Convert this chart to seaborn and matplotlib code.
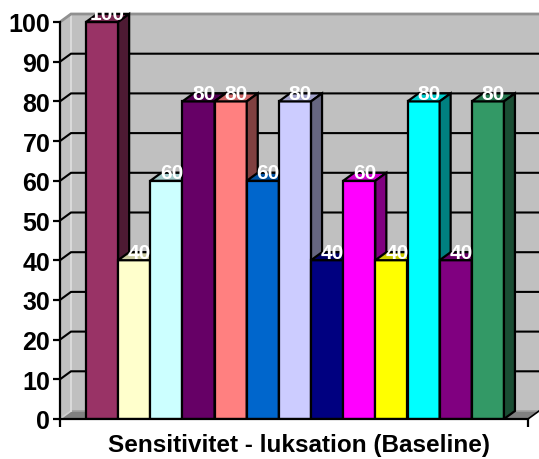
import matplotlib
matplotlib.use("Agg")
import matplotlib.pyplot as plt
import seaborn as sns
import numpy as np
from matplotlib.patches import Polygon
from matplotlib.colors import to_rgb

# ---- data ----
categories = [f"S{i}" for i in range(1, 14)]
values = [100, 40, 60, 80, 80, 60, 80, 40, 60, 40, 80, 40, 80]
colors = ["#993366", "#FFFFCC", "#CCFFFF", "#660066", "#FF8080", "#0066CC",
          "#CCCCFF", "#000080", "#FF00FF", "#FFFF00", "#00FFFF", "#800080",
          "#339966"]
yticks = list(range(0, 101, 10))
xlabel = "Sensitivitet - luksation (Baseline)"

plt.rcParams['font.family'] = ['Liberation Sans', 'DejaVu Sans']

W_PX, H_PX = 539, 460
fig = plt.figure(figsize=(W_PX / 100, H_PX / 100), dpi=100)
L_PX, B_PX = 60, 40
ax = fig.add_axes([L_PX / W_PX, B_PX / H_PX, (W_PX - L_PX) / W_PX, (H_PX - B_PX) / H_PX])

sns.barplot(x=categories, y=values, hue=categories, palette=colors, width=1.0,
            saturation=1, edgecolor="black", linewidth=1.6, legend=False, ax=ax)
bars = sorted(list(ax.patches), key=lambda p: p.get_x())

# layout in data units
bar_px = 32.15
unit_px = 3.97
XL = -0.5 - 26 / bar_px
XMAX = XL + (W_PX - L_PX) / bar_px
XR = -0.5 + (528 - 86) / bar_px
YMAX = (H_PX - B_PX) / unit_px
DX = 11 / bar_px
DY = 8 / unit_px

ax.set_xlim(XL, XMAX)
ax.set_ylim(0, YMAX)
ax.set_facecolor("white")

# walls and floor
ax.add_patch(Polygon([(XL + DX, DY), (XMAX, DY), (XMAX, 100 + DY), (XL + DX, 100 + DY)],
                     closed=True, fc="#C0C0C0", ec="none", zorder=0.5))
ax.add_patch(Polygon([(XL, 0), (XL + DX, DY), (XL + DX, 100 + DY), (XL, 100)],
                     closed=True, fc="#C0C0C0", ec="none", zorder=0.55))
ax.plot([XL + DX, XL + DX], [DY, 100 + DY], color="#E0E0E0", lw=1.2, zorder=0.7)
ax.add_patch(Polygon([(XL, 0), (XR, 0), (XR + DX, DY), (XL + DX, DY)],
                     closed=True, fc="#808080", ec="none", zorder=0.6))
ax.plot([XL + DX, XMAX], [DY, DY], color="#A0A0A0", lw=1.2, zorder=0.65)
ax.plot([XL, XL + DX], [0, DY], color="#D0D0D0", lw=1.2, zorder=0.65)
ax.plot([XR, XR + DX], [0, DY], color="black", lw=1.2, zorder=0.65)
for v in yticks[1:-1]:
    ax.plot([XL, XL + DX, XMAX], [v, v + DY, v + DY], color="black", lw=1.5,
            zorder=0.8, solid_joinstyle="miter")
ax.plot([XL, XL + DX, XMAX], [100, 100 + DY, 100 + DY], color="#909090", lw=2,
        zorder=0.8, solid_joinstyle="miter")

# 3D faces of the bars
for i, p in enumerate(bars):
    x0, w, h = p.get_x(), p.get_width(), p.get_height()
    c = np.array(to_rgb(p.get_facecolor()))
    z = 3 + i * 0.1
    p.set_zorder(z)
    p.set_joinstyle("miter")
    ax.add_patch(Polygon([(x0, h), (x0 + w, h), (x0 + w + DX, h + DY), (x0 + DX, h + DY)],
                         closed=True, fc=c * 0.8, ec="black", lw=1.6, zorder=z + 0.01,
                         joinstyle="miter"))
    ax.add_patch(Polygon([(x0 + w, 0), (x0 + w + DX, DY), (x0 + w + DX, h + DY), (x0 + w, h)],
                         closed=True, fc=c * 0.5, ec="black", lw=1.6, zorder=z + 0.02,
                         joinstyle="miter"))
    ax.text(x0 + w / 2 + DX / 2, h + DY, f"{h:.0f}", color="white", fontsize=15,
            fontweight="bold", ha="center", va="center", zorder=10)

# axes
for s in ["top", "right"]:
    ax.spines[s].set_visible(False)
ax.spines["left"].set_bounds(0, 100)
ax.spines["bottom"].set_bounds(XL, XR)
for s in ["left", "bottom"]:
    ax.spines[s].set_linewidth(1.6)
    ax.spines[s].set_color("black")
    ax.spines[s].set_zorder(20)
ax.set_yticks(yticks)
ax.set_yticklabels([str(t) for t in yticks], fontweight="bold", fontsize=18)
ax.set_xticks([XL, XR])
ax.set_xticklabels([])
ax.tick_params(axis="y", direction="out", length=5, width=1.6, pad=2, left=True)
ax.tick_params(axis="x", direction="out", length=6, width=1.6, bottom=True)
ax.set_ylabel("")
ax.set_xlabel(xlabel, fontsize=17.5, fontweight="bold", labelpad=0.5)

fig.savefig("out.png", dpi=100)
